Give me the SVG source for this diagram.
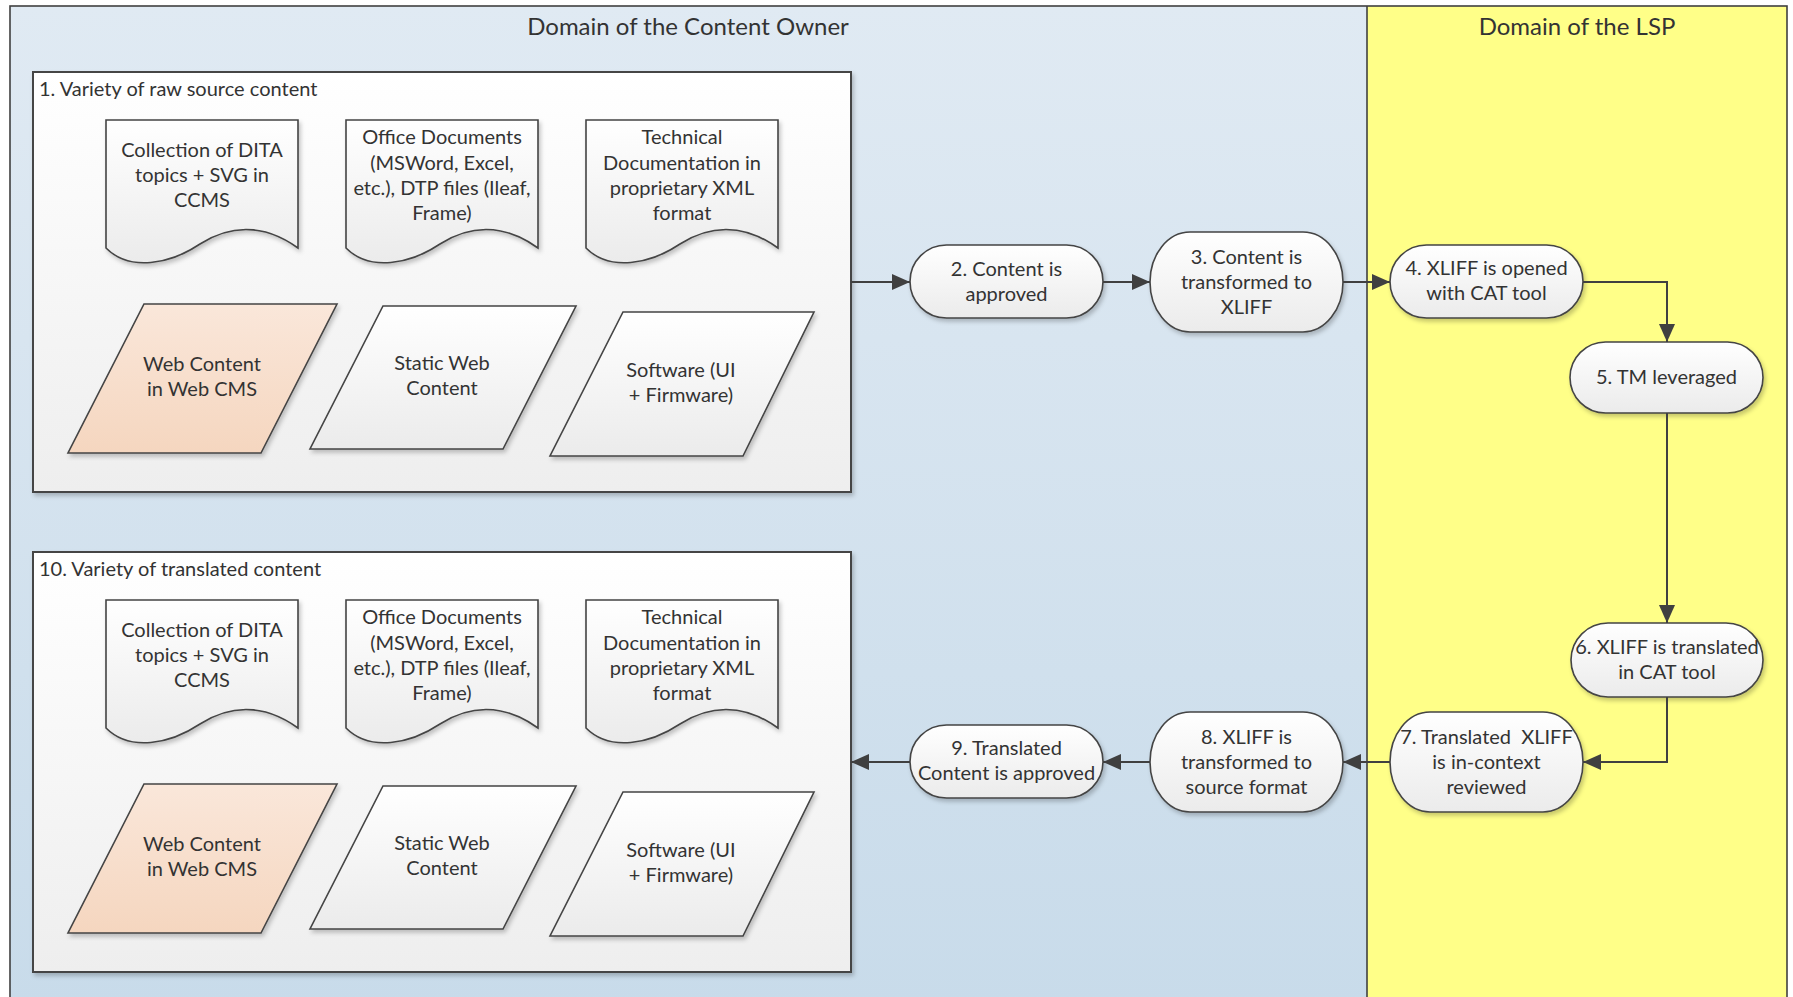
<svg xmlns="http://www.w3.org/2000/svg" width="1793" height="997" viewBox="0 0 1793 997">
<style>
.t{font-family:Lato,"Liberation Sans",sans-serif;font-size:20px;fill:#333;text-anchor:middle}
.tl{font-family:Lato,"Liberation Sans",sans-serif;font-size:20px;fill:#333}
.h{font-family:Lato,"Liberation Sans",sans-serif;font-size:24px;fill:#333;text-anchor:middle}
.shape{fill:url(#gw);stroke:#444;stroke-width:1.6;filter:url(#sh)}
.peach{fill:url(#gp);stroke:#444;stroke-width:1.6;filter:url(#sh)}
.box{fill:url(#gb);stroke:#444;stroke-width:2;filter:url(#sh)}
.c{fill:none;stroke:#404040;stroke-width:2;marker-end:url(#ah)}
</style>
<defs>
<linearGradient id="gbg" x1="0" y1="0" x2="0" y2="1"><stop offset="0" stop-color="#e0eaf3"/><stop offset="1" stop-color="#c8dbea"/></linearGradient>
<linearGradient id="gw" x1="0" y1="0" x2="0" y2="1"><stop offset="0" stop-color="#ffffff"/><stop offset="1" stop-color="#ebebeb"/></linearGradient>
<linearGradient id="gb" x1="0" y1="0" x2="0" y2="1"><stop offset="0" stop-color="#ffffff"/><stop offset="1" stop-color="#eeeeee"/></linearGradient>
<linearGradient id="gp" x1="0" y1="0" x2="0" y2="1"><stop offset="0" stop-color="#fae7da"/><stop offset="1" stop-color="#f5d6bf"/></linearGradient>
<filter id="sh" x="-10%" y="-10%" width="125%" height="130%"><feDropShadow dx="2" dy="3" stdDeviation="2" flood-color="#000" flood-opacity="0.22"/></filter>
<marker id="ah" viewBox="0 0 18 16" refX="18" refY="8" markerWidth="18" markerHeight="16" markerUnits="userSpaceOnUse" orient="auto"><path d="M0,0 L18,8 L0,16 Z" fill="#404040"/></marker>
</defs>

<g id="lanes">
<rect x="10" y="6" width="1357" height="1000" fill="url(#gbg)"/>
<rect x="1367" y="6" width="420" height="1000" fill="#ffff88"/>
<rect x="10" y="6" width="1777" height="1000" fill="none" stroke="#404040" stroke-width="1.6"/>
<line x1="1367" y1="6" x2="1367" y2="997" stroke="#404040" stroke-width="1.6"/>
<text class="h" x="688" y="35">Domain of the Content Owner</text>
<text class="h" x="1577" y="35">Domain of the LSP</text>
</g>

<g id="box1">
<rect class="box" x="33" y="72" width="818" height="420"/>
<text class="tl" x="39" y="96">1. Variety of raw source content</text>
</g>
<g id="doc1a">
<path class="shape" d="M106,120 H298 V248 C262,222 228,226 200,244 C170,264 130,272 106,248 Z"/>
<text class="t" x="202"><tspan x="202" y="157">Collection of DITA</tspan><tspan x="202" y="182">topics + SVG in</tspan><tspan x="202" y="207">CCMS</tspan></text>
</g>
<g id="doc2a">
<path class="shape" d="M346,120 H538 V248 C502,222 468,226 440,244 C410,264 370,272 346,248 Z"/>
<text class="t"><tspan x="442" y="144">Office Documents</tspan><tspan x="442" y="169.5">(MSWord, Excel,</tspan><tspan x="442" y="195">etc.), DTP files (Ileaf,</tspan><tspan x="442" y="220">Frame)</tspan></text>
</g>
<g id="doc3a">
<path class="shape" d="M586,120 H778 V248 C742,222 708,226 680,244 C650,264 610,272 586,248 Z"/>
<text class="t"><tspan x="682" y="144">Technical</tspan><tspan x="682" y="169.5">Documentation in</tspan><tspan x="682" y="195">proprietary XML</tspan><tspan x="682" y="220">format</tspan></text>
</g>
<g id="web1a">
<polygon class="peach" points="144,304 337,304 261,453 68,453"/>
<text class="t"><tspan x="202" y="371">Web Content</tspan><tspan x="202" y="396">in Web CMS</tspan></text>
</g>
<g id="static1a">
<polygon class="shape" points="383,306 576,306 503,449 310,449"/>
<text class="t"><tspan x="442" y="370">Static Web</tspan><tspan x="442" y="395">Content</tspan></text>
</g>
<g id="soft1a">
<polygon class="shape" points="623,312 814,312 743,456 550,456"/>
<text class="t"><tspan x="681" y="377">Software (UI</tspan><tspan x="681" y="402">+ Firmware)</tspan></text>
</g>

<g id="box10">
<rect class="box" x="33" y="552" width="818" height="420"/>
<text class="tl" x="39" y="576">10. Variety of translated content</text>
</g>
<g id="doc1b">
<path class="shape" d="M106,600 H298 V728 C262,702 228,706 200,724 C170,744 130,752 106,728 Z"/>
<text class="t"><tspan x="202" y="637">Collection of DITA</tspan><tspan x="202" y="662">topics + SVG in</tspan><tspan x="202" y="687">CCMS</tspan></text>
</g>
<g id="doc2b">
<path class="shape" d="M346,600 H538 V728 C502,702 468,706 440,724 C410,744 370,752 346,728 Z"/>
<text class="t"><tspan x="442" y="624">Office Documents</tspan><tspan x="442" y="649.5">(MSWord, Excel,</tspan><tspan x="442" y="675">etc.), DTP files (Ileaf,</tspan><tspan x="442" y="700">Frame)</tspan></text>
</g>
<g id="doc3b">
<path class="shape" d="M586,600 H778 V728 C742,702 708,706 680,724 C650,744 610,752 586,728 Z"/>
<text class="t"><tspan x="682" y="624">Technical</tspan><tspan x="682" y="649.5">Documentation in</tspan><tspan x="682" y="675">proprietary XML</tspan><tspan x="682" y="700">format</tspan></text>
</g>
<g id="web1b">
<polygon class="peach" points="144,784 337,784 261,933 68,933"/>
<text class="t"><tspan x="202" y="851">Web Content</tspan><tspan x="202" y="876">in Web CMS</tspan></text>
</g>
<g id="static1b">
<polygon class="shape" points="383,786 576,786 503,929 310,929"/>
<text class="t"><tspan x="442" y="850">Static Web</tspan><tspan x="442" y="875">Content</tspan></text>
</g>
<g id="soft1b">
<polygon class="shape" points="623,792 814,792 743,936 550,936"/>
<text class="t"><tspan x="681" y="857">Software (UI</tspan><tspan x="681" y="882">+ Firmware)</tspan></text>
</g>

<g id="n2">
<rect class="shape" x="910" y="245" width="193" height="73" rx="36.5" ry="36.5"/>
<text class="t"><tspan x="1006.5" y="276">2. Content is</tspan><tspan x="1006.5" y="301">approved</tspan></text>
</g>
<g id="n3">
<rect class="shape" x="1150" y="232" width="193" height="100" rx="40" ry="50"/>
<text class="t"><tspan x="1246.5" y="264">3. Content is</tspan><tspan x="1246.5" y="289">transformed to</tspan><tspan x="1246.5" y="314">XLIFF</tspan></text>
</g>
<g id="n4">
<rect class="shape" x="1390" y="245" width="193" height="73" rx="36.5" ry="36.5"/>
<text class="t"><tspan x="1486.5" y="275">4. XLIFF is opened</tspan><tspan x="1486.5" y="300">with CAT tool</tspan></text>
</g>
<g id="n5">
<rect class="shape" x="1570" y="342" width="193" height="71" rx="35.5" ry="35.5"/>
<text class="t" x="1666.5" y="384">5. TM leveraged</text>
</g>
<g id="n6">
<rect class="shape" x="1571" y="623" width="192" height="74" rx="37" ry="37"/>
<text class="t"><tspan x="1667" y="654">6. XLIFF is translated</tspan><tspan x="1667" y="679">in CAT tool</tspan></text>
</g>
<g id="n7">
<rect class="shape" x="1390" y="712" width="193" height="100" rx="40" ry="50"/>
<text class="t" xml:space="preserve"><tspan x="1486.5" y="744">7. Translated  XLIFF</tspan><tspan x="1486.5" y="769">is in-context</tspan><tspan x="1486.5" y="794">reviewed</tspan></text>
</g>
<g id="n8">
<rect class="shape" x="1150" y="712" width="193" height="100" rx="40" ry="50"/>
<text class="t"><tspan x="1246.5" y="744">8. XLIFF is</tspan><tspan x="1246.5" y="769">transformed to</tspan><tspan x="1246.5" y="794">source format</tspan></text>
</g>
<g id="n9">
<rect class="shape" x="910" y="725" width="193" height="73" rx="36.5" ry="36.5"/>
<text class="t"><tspan x="1006.5" y="755">9. Translated</tspan><tspan x="1006.5" y="780">Content is approved</tspan></text>
</g>

<g id="connectors">
<path class="c" d="M851,282 H910"/>
<path class="c" d="M1103,282 H1150"/>
<path class="c" d="M1343,282 H1390"/>
<path class="c" d="M1583,282 H1667 V342"/>
<path class="c" d="M1667,413 V623"/>
<path class="c" d="M1667,697 V762 H1583"/>
<path class="c" d="M1390,762 H1343"/>
<path class="c" d="M1150,762 H1103"/>
<path class="c" d="M910,762 H851"/>
</g>
</svg>
